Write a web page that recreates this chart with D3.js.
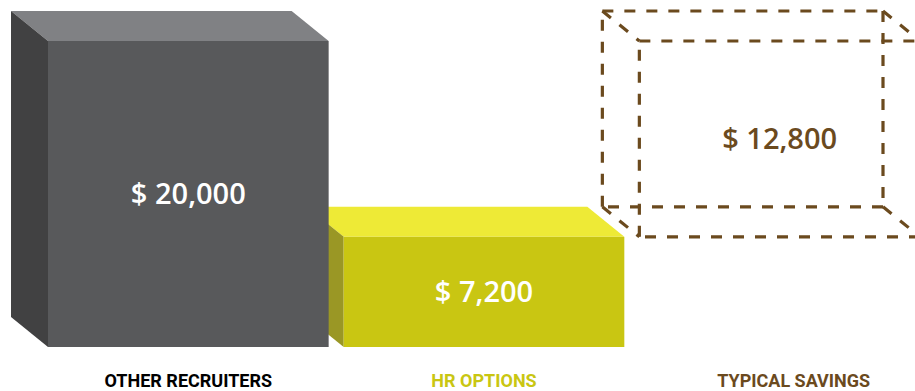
<!DOCTYPE html>
<html>
<head>
<meta charset="utf-8">
<title>Savings</title>
<script src="https://cdn.jsdelivr.net/npm/d3@7"></script>
<style>
body { margin: 0; background: #fff; }
.value { font-family: "Open Sans", sans-serif; font-size: 29px; font-weight: 600; }
.cat { font-family: "Liberation Sans Narrow", "Roboto", sans-serif; font-size: 18px; font-weight: bold; }
</style>
</head>
<body>
<script>
var categories = ["OTHER RECRUITERS", "HR OPTIONS", "TYPICAL SAVINGS"];
var values = [20000, 7200, 12800];
var bases = [0, 0, 7200];
var valueLabels = ["$ 20,000", "$ 7,200", "$ 12,800"];

var width = 915, height = 391;
var depthX = 37, depthY = 30;

var svg = d3.select("body").append("svg")
	.attr("width", width)
	.attr("height", height);

var x = d3.scaleBand()
	.domain(categories)
	.range([48, 920])
	.paddingInner(15 / 295)
	.paddingOuter(0);

var y = d3.scaleLinear()
	.domain([0, 20000])
	.range([347, 41]);

var fronts = ["#58595b", "#c9c612", null];
var tops = ["#808184", "#eeea36", null];
var sides = ["#414142", "#9a9725", null];
var textColors = ["#ffffff", "#ffffff", "#6b4a1e"];
var catColors = ["#000000", "#c9c612", "#6b4a1e"];
var brown = "#6b4a1e";

function box(i) {
	var x0 = x(categories[i]), x1 = x0 + x.bandwidth();
	var yTop = y(bases[i] + values[i]), yBot = y(bases[i]);
	return {
		x0: x0, x1: x1, yTop: yTop, yBot: yBot,
		top: [[x0 - depthX, yTop - depthY], [x1 - depthX, yTop - depthY], [x1, yTop], [x0, yTop]],
		side: [[x0 - depthX, yTop - depthY], [x0, yTop], [x0, yBot], [x0 - depthX, yBot - depthY]]
	};
}

var line = d3.line();

// solid boxes: draw the second one first so the first covers it
[1, 0].forEach(function(i) {
	var b = box(i);
	var g = svg.append("g");
	g.append("path").attr("d", line(b.top) + "Z").attr("fill", tops[i]);
	g.append("path").attr("d", line(b.side) + "Z").attr("fill", sides[i]);
	g.append("rect")
		.attr("x", b.x0).attr("y", b.yTop)
		.attr("width", b.x1 - b.x0).attr("height", b.yBot - b.yTop)
		.attr("fill", fronts[i]);
});

// dashed wireframe box for savings
var b3 = box(2);
var back = [[b3.x0 - depthX, b3.yTop - depthY], [b3.x1 - depthX, b3.yTop - depthY],
	[b3.x1 - depthX, b3.yBot - depthY], [b3.x0 - depthX, b3.yBot - depthY]];
var front = [[b3.x0, b3.yTop], [b3.x1, b3.yTop], [b3.x1, b3.yBot], [b3.x0, b3.yBot]];
var edges = [];
for (var k = 0; k < 4; k++) {
	edges.push([back[k], back[(k + 1) % 4]]);
	edges.push([front[k], front[(k + 1) % 4]]);
	edges.push([back[k], front[k]]);
}
svg.append("g").selectAll("path")
	.data(edges)
	.enter()
	.append("path")
	.attr("d", function(d) { return line(d); })
	.attr("fill", "none")
	.attr("stroke", brown)
	.attr("stroke-width", 3.2)
	.attr("stroke-dasharray", "11,11");

// value labels
svg.selectAll("text.value")
	.data(categories)
	.enter()
	.append("text")
	.attr("class", "value")
	.attr("x", function(d) { return x(d) + x.bandwidth() / 2; })
	.attr("y", function(d, i) { return (y(bases[i] + values[i]) + y(bases[i])) / 2; })
	.attr("dy", "0.36em")
	.attr("text-anchor", "middle")
	.attr("fill", function(d, i) { return textColors[i]; })
	.text(function(d, i) { return valueLabels[i]; });

// category labels
svg.selectAll("text.cat")
	.data(categories)
	.enter()
	.append("text")
	.attr("class", "cat")
	.attr("x", function(d, i) { return x(d) + x.bandwidth() / 2 + (i == 2 ? 14 : 0); })
	.attr("y", 387)
	.attr("text-anchor", "middle")
	.attr("fill", function(d, i) { return catColors[i]; })
	.text(function(d) { return d; });
</script>
</body>
</html>
